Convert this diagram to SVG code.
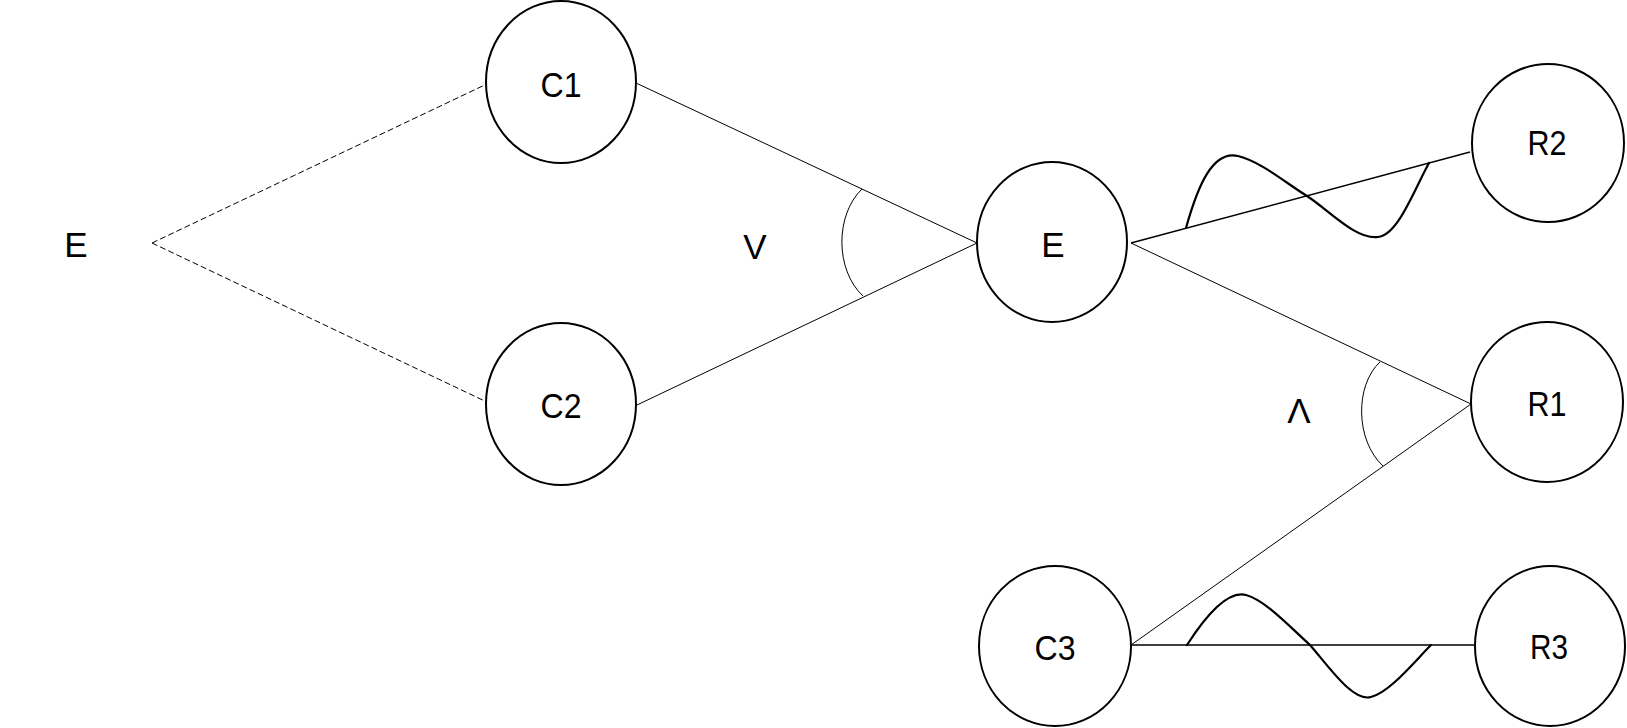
<svg xmlns="http://www.w3.org/2000/svg" width="1627" height="728" viewBox="0 0 1627 728">
<style>
.node{fill:#fff;stroke:#000;stroke-width:2}
.lbl{font-family:"Liberation Sans",Arial,sans-serif;font-size:35px;fill:#000;text-anchor:middle}
.ln{stroke:#000;stroke-width:1;fill:none}
.ln2{stroke:#000;stroke-width:1.4;fill:none}
.dash{stroke:#000;stroke-width:1;fill:none;stroke-dasharray:6 3}
.wave{stroke:#000;stroke-width:2.2;fill:none;stroke-linecap:round}
</style>
<rect width="1627" height="728" fill="#fff"/>
<g id="connectors">
<line class="dash" x1="152" y1="243" x2="491" y2="82"/>
<line class="dash" x1="152" y1="243" x2="491" y2="404"/>
<line class="ln" x1="636" y1="83" x2="977" y2="243"/>
<line class="ln" x1="637" y1="405" x2="977" y2="243"/>
<path class="ln" d="M862,189 C835,215 835,270 863,296"/>
<line class="ln2" x1="1131" y1="243" x2="1470" y2="152"/>
<path class="wave" d="M1186,228 C1198,185 1213,150 1238,156 C1262,162 1287,184 1307,196 C1330,211 1356,240 1378,237 C1398,235 1414,190 1429,163"/>
<line class="ln" x1="1131" y1="243" x2="1471" y2="404"/>
<line class="ln" x1="1131" y1="645" x2="1471" y2="404"/>
<path class="ln" d="M1380,362 C1355,385 1355,440 1383,466"/>
<line class="ln2" x1="1131" y1="645" x2="1474" y2="645"/>
<path class="wave" d="M1187,645 C1205,617 1227,590 1246,595 C1265,600 1290,627 1310,645 C1330,668 1353,702 1371,697 C1390,692 1414,662 1431,645"/>
</g>
<g id="label-E-left"><text class="lbl" x="76" y="257">E</text></g>
<g id="label-V"><text class="lbl" x="755" y="259">V</text></g>
<g id="label-and"><text class="lbl" x="1299" y="423">Λ</text></g>
<g id="node-C1"><ellipse class="node" cx="561" cy="82" rx="75" ry="81"/><text class="lbl" x="561" y="97" textLength="41" lengthAdjust="spacingAndGlyphs">C1</text></g>
<g id="node-C2"><ellipse class="node" cx="561" cy="404" rx="75" ry="81"/><text class="lbl" x="561" y="418" textLength="41" lengthAdjust="spacingAndGlyphs">C2</text></g>
<g id="node-E"><ellipse class="node" cx="1052" cy="242" rx="75" ry="80"/><text class="lbl" x="1053" y="257">E</text></g>
<g id="node-R2"><ellipse class="node" cx="1548" cy="143" rx="76" ry="79"/><text class="lbl" x="1547" y="155" textLength="39" lengthAdjust="spacingAndGlyphs">R2</text></g>
<g id="node-R1"><ellipse class="node" cx="1547" cy="402" rx="76" ry="80"/><text class="lbl" x="1547" y="416" textLength="39" lengthAdjust="spacingAndGlyphs">R1</text></g>
<g id="node-C3"><ellipse class="node" cx="1055" cy="646" rx="76" ry="80"/><text class="lbl" x="1055" y="660" textLength="41" lengthAdjust="spacingAndGlyphs">C3</text></g>
<g id="node-R3"><ellipse class="node" cx="1550" cy="646" rx="75" ry="80"/><text class="lbl" x="1549" y="659" textLength="38" lengthAdjust="spacingAndGlyphs">R3</text></g>
</svg>
